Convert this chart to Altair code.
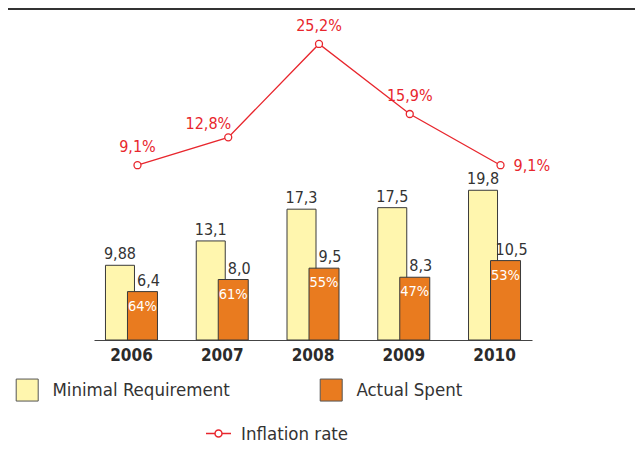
import altair as alt
import pandas as pd

# ---- data ----
years = ["2006", "2007", "2008", "2009", "2010"]
minimal = [9.88, 13.1, 17.3, 17.5, 19.8]
actual = [6.4, 8.0, 9.5, 8.3, 10.5]
share = [64, 61, 55, 47, 53]
inflation = [9.1, 12.8, 25.2, 15.9, 9.1]
series_names = ["Minimal Requirement", "Actual Spent"]
line_name = "Inflation rate"


def fmt(v):
    return f"{v}".replace(".", ",")


df_min = pd.DataFrame({"year": years, "value": minimal, "series": series_names[0],
                       "label": [fmt(v) for v in minimal]})
df_act = pd.DataFrame({"year": years, "value": actual, "series": series_names[1],
                       "label": [fmt(v) for v in actual],
                       "share": [f"{s}%" for s in share]})
df_inf = pd.DataFrame({"year": years, "rate": inflation, "series": line_name,
                       "label": [fmt(v) + "%" for v in inflation]})

# ---- style ----
FONT = "DejaVu Sans Condensed, Roboto, sans-serif"
YEL = "#FFF6AE"
ORG = "#E97B1F"
RED = "#E8262D"
DARK = "#333333"
W, H = 438, 330

x = alt.X("year:N", sort=years,
          scale=alt.Scale(paddingInner=0.174, paddingOuter=0),
          axis=alt.Axis(title=None, labelAngle=0, ticks=False, domainColor="#444",
                        domainWidth=1.2, labelFont=FONT, labelFontSize=17,
                        labelFontWeight="bold", labelColor="#2b2b2b", labelPadding=7))
yb = alt.Y("value:Q", scale=alt.Scale(domain=[0, 43.64], nice=False, zero=False), axis=None)
yi = alt.Y("rate:Q", scale=alt.Scale(domain=[-14.11, 29.71], nice=False, zero=False), axis=None)

fill_legend = alt.Legend(orient="none", legendX=-78.3, legendY=368.3, direction="horizontal",
                         title=None, symbolType="square", symbolSize=484,
                         symbolStrokeColor="#555", symbolStrokeWidth=1,
                         labelFont=FONT, labelFontSize=18.5, labelColor=DARK, labelLimit=400,
                         labelOffset=13.7, columnPadding=87, padding=0)
fill = alt.Fill("series:N", scale=alt.Scale(domain=series_names, range=[YEL, ORG]),
                legend=fill_legend)

line_symbol = "M-1,0H-0.28A0.28,0.28,0,1,1,0.28,0A0.28,0.28,0,1,1,-0.28,0M0.28,0H1"
stroke_legend = alt.Legend(orient="none", legendX=111, legendY=410, title=None,
                           symbolType=line_symbol, symbolSize=625, symbolFillColor="white",
                           symbolStrokeWidth=1.5, labelFont=FONT, labelFontSize=18.5,
                           labelColor=DARK, labelLimit=400, labelOffset=9, padding=0)
stroke = alt.Stroke("series:N", scale=alt.Scale(domain=[line_name], range=[RED]),
                    legend=stroke_legend)

bars_min = alt.Chart(df_min).mark_bar(width=29, xOffset=-11.5, stroke="#3a3a3a",
                                      strokeWidth=1).encode(x=x, y=yb, fill=fill)
bars_act = alt.Chart(df_act).mark_bar(width=30, xOffset=11, stroke="#3a3a3a",
                                      strokeWidth=1).encode(x=x, y=yb, fill=fill)
lab_min = alt.Chart(df_min).mark_text(font=FONT, fontSize=16, color=DARK, xOffset=-11.5,
                                      dy=-6, baseline="alphabetic").encode(x=x, y=yb, text="label:N")
lab_act = alt.Chart(df_act).mark_text(font=FONT, fontSize=16, color=DARK, xOffset=17,
                                      dy=-6, baseline="alphabetic").encode(x=x, y=yb, text="label:N")
lab_share = alt.Chart(df_act).mark_text(font=FONT, fontSize=14.5, color="white", xOffset=11,
                                        dy=19, baseline="alphabetic").encode(x=x, y=yb, text="share:N")

line = alt.Chart(df_inf).mark_line(strokeWidth=1.3, xOffset=6).encode(x=x, y=yi, stroke=stroke)
pts = alt.Chart(df_inf).mark_point(filled=True, fill="white", size=49, strokeWidth=1.3,
                                   opacity=1, xOffset=6).encode(x=x, y=yi, stroke=stroke)
inf_a = alt.Chart(df_inf).transform_filter(
    alt.FieldOneOfPredicate(field="year", oneOf=[years[0], years[2], years[3]])
).mark_text(font=FONT, fontSize=16, color=RED, xOffset=6, dy=-13,
            baseline="alphabetic", align="center").encode(x=x, y=yi, text="label:N")
inf_b = alt.Chart(df_inf).transform_filter(
    alt.FieldEqualPredicate(field="year", equal=years[1])
).mark_text(font=FONT, fontSize=16, color=RED, xOffset=6, dx=3, dy=-8,
            baseline="alphabetic", align="right").encode(x=x, y=yi, text="label:N")
inf_c = alt.Chart(df_inf).transform_filter(
    alt.FieldEqualPredicate(field="year", equal=years[4])
).mark_text(font=FONT, fontSize=16, color=RED, xOffset=6, dx=13, dy=6,
            baseline="alphabetic", align="left").encode(x=x, y=yi, text="label:N")

top_rule = alt.Chart(pd.DataFrame({"k": [0]})).mark_rule(color="#333", strokeWidth=2).encode(
    x=alt.value(-86), x2=alt.value(541), y=alt.value(-1))

chart = alt.layer(
    top_rule, bars_min, bars_act, lab_min, lab_act, lab_share,
    line, pts, inf_a, inf_b, inf_c
).resolve_scale(y="independent").properties(
    width=W, height=H,
    autosize=alt.AutoSizeParams(type="none"),
    padding={"left": 86, "top": 2, "right": 103, "bottom": 108},
).configure_view(stroke=None)

chart.save("out.html", embed_options={"renderer": "svg", "actions": False})
